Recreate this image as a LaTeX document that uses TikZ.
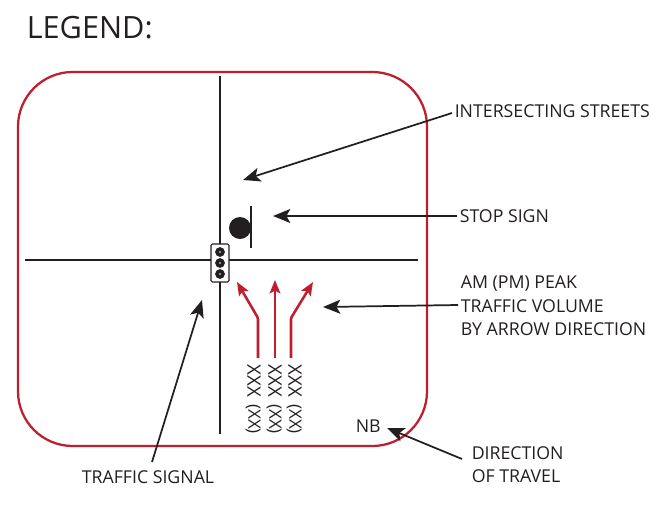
\documentclass[tikz,border=0pt]{standalone}
\usepackage{fontspec}
\setmainfont{Open Sans}
\usetikzlibrary{
  arrows.meta,
  positioning
}
\definecolor{legendred}{HTML}{BE1E2D}
\definecolor{inkblack}{HTML}{231F20}
\begin{document}
\begin{tikzpicture}[
      x=0.75pt,y=-0.75pt,
      street/.style={
         draw=inkblack,
         line width=2pt
      },
      label/.style={
         anchor=west,
         inner sep=0pt,
         text=inkblack,
         font=\fontsize{13.3}{17.6}\selectfont
      },
      count/.style={
         rotate=-90,
         inner sep=0pt,
         text=inkblack,
         font=\fontsize{14}{14}\selectfont
      },
      lamp/.style={
         circle,
         fill=inkblack,
         draw=inkblack,
         inner sep=0pt,
         minimum size=6.8pt
      },
      tip/.style={-{Stealth[length=13pt,width=10.5pt,inset=3pt]},draw=inkblack,line width=1.3pt},
      turn/.style={-{Stealth[length=10pt,width=8pt,inset=2pt]},draw=legendred,line width=1.9pt,rounded corners=1pt},
    ]
    \useasboundingbox (0,0) rectangle (666,525);
    \node (title) [label,font=\fontsize{23}{24}\selectfont] at (26.5,28) {LEGEND:};
    \draw[legendred,line width=1.7pt,rounded corners=41pt] (18,72) rectangle (427,446);
    % streets
    \draw[street] (220,76) -- (220,434);
    \draw[street] (25,260) -- (418,260);
    % stop sign
    \node (stopdot) [circle,fill=inkblack,inner sep=0pt,minimum size=16.5pt] at (240,228) {};
    \draw[inkblack,line width=1.6pt] (251,206) -- (251,248);
    % signal
    \node (signal) [draw=inkblack,fill=white,rounded corners=1pt,line width=0.8pt,
       minimum width=13.5pt,minimum height=28.5pt,inner sep=0pt] at (220,263) {};
    \node (lamp1) [lamp] at (220,252) {};
    \node (lamp2) [lamp] at (220,263) {};
    \node (lamp3) [lamp] at (220,274) {};
    \foreach \l in {lamp1,lamp2,lamp3}
       \fill[white] (\l) circle (0.7pt);
    % labels
    \node (lblstreets) [label] at (454.5,111) {INTERSECTING STREETS};
    \node (lblstop) [label] at (459.5,216) {STOP SIGN};
    \node (lblvolume) [label,align=left] at (460.5,306) {AM (PM) PEAK\\TRAFFIC VOLUME\\BY ARROW DIRECTION};
    \node (lbltravel) [label,align=left] at (471.5,464.5) {DIRECTION\\OF TRAVEL};
    \node (lblsignal) [label] at (81.5,477) {TRAFFIC SIGNAL};
    \node (lblnb) [label] at (355.5,426) {NB};
    % counts
    \node (c1) [count] at (254,381) {XXX};
    \node (c2) [count] at (275,381) {XXX};
    \node (c3) [count] at (295,381) {XXX};
    \node (d1) [count,font=\fontsize{12.8}{14}\selectfont] at (253,419) {(XX)};
    \node (d2) [count,font=\fontsize{12.8}{14}\selectfont] at (274,419) {(XX)};
    \node (d3) [count,font=\fontsize{12.8}{14}\selectfont] at (294,419) {(XX)};
    % turning movements
    \coordinate (t1) at (258,358);
    \coordinate (t2) at (275,358);
    \coordinate (t3) at (291,358);
    \coordinate (h1) at (237,282);
    \coordinate (h2) at (275,280);
    \coordinate (h3) at (313,282);
    \draw[turn] (t1) -- (258,318) -- (h1);
    \draw[turn] (t2) -- (h2);
    \draw[turn] (t3) -- (291,318) -- (h3);
    % leaders
    \coordinate (s1) at (452,113);
    \coordinate (s2) at (457,216);
    \coordinate (s3) at (458,305);
    \coordinate (s4) at (152,462);
    \coordinate (s5) at (462,459);
    \coordinate (e1) at (243,180);
    \coordinate (e2) at (273,216);
    \coordinate (e3) at (323,307);
    \coordinate (e4) at (202,300);
    \coordinate (e5) at (387,428);
    \draw[tip] (s1) -- (e1);
    \draw[tip] (s2) -- (e2);
    \draw[tip] (s3) -- (e3);
    \draw[tip] (s4) -- (e4);
    \draw[tip] (s5) -- (e5);
\end{tikzpicture}
\end{document}
